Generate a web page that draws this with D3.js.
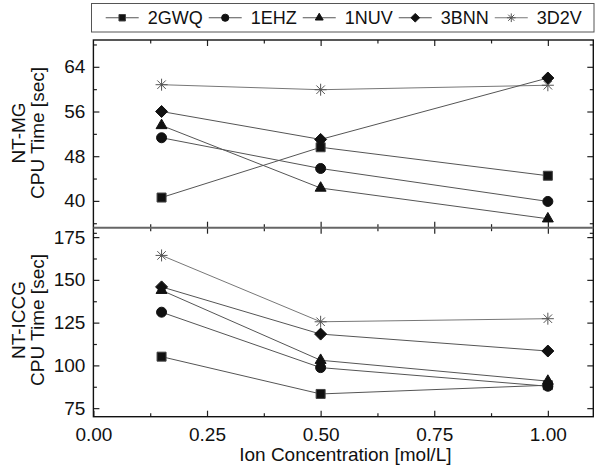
<!DOCTYPE html>
<html><head><meta charset="utf-8">
<script src="https://cdn.jsdelivr.net/npm/d3@7"></script>
<style>body{margin:0;background:#fff}svg{display:block}text{font-family:"Liberation Sans",Arial,sans-serif;fill:#111}</style>
</head><body>
<script>
const xValues = [0.15, 0.5, 1.0];
const seriesNames = ["2GWQ", "1EHZ", "1NUV", "3BNN", "3D2V"];
const mgValues = {
  "2GWQ": [40.6, 49.6, 44.5],
  "1EHZ": [51.3, 45.8, 39.9],
  "1NUV": [53.5, 42.3, 36.8],
  "3BNN": [56.0, 51.0, 62.0],
  "3D2V": [60.8, 59.9, 60.7]
};
const iccgValues = {
  "2GWQ": [105.1, 83.3, 88.4],
  "1EHZ": [131.1, 98.7, 87.8],
  "1NUV": [143.9, 103.0, 90.8],
  "3BNN": [145.9, 118.3, 108.4],
  "3D2V": [164.3, 125.5, 127.3]
};
const xTicks = [0, 0.25, 0.5, 0.75, 1.0];
const xMinor = [0.125, 0.375, 0.625, 0.875];
const mgTicks = [40, 48, 56, 64];
const mgMinor = [36, 44, 52, 60, 68];
const iccgTicks = [75, 100, 125, 150, 175];
const iccgMinor = [87.5, 112.5, 137.5, 162.5, 177.5];
const xTitle = "Ion Concentration [mol/L]";
const mgTitle = ["NT-MG", "CPU Time [sec]"];
const iccgTitle = ["NT-ICCG", "CPU Time [sec]"];

const W = 600, H = 471;
const L = 93.4, R = 593.3, T1 = 40, SEP = 227.7, B2 = 416.7;
const svg = d3.select("body").append("svg").attr("width", W).attr("height", H);

const x = d3.scaleLinear().domain([0, 1.1]).range([L, R]);
const yTop = d3.scaleLinear().domain([35.2, 68.8]).range([SEP, T1]);
const yBot = d3.scaleLinear().domain([70, 180.5]).range([B2, SEP]);

const shapes = {
  "2GWQ": {type: "square", fill: "#111", stroke: "#444"},
  "1EHZ": {type: "circle", fill: "#111", stroke: "#111"},
  "1NUV": {type: "triangle", fill: "#111", stroke: "#111"},
  "3BNN": {type: "diamond", fill: "#111", stroke: "#111"},
  "3D2V": {type: "star", fill: "none", stroke: "#555"}
};
const lineColor = {"2GWQ":"#555","1EHZ":"#555","1NUV":"#555","3BNN":"#555","3D2V":"#777"};

function markerPath(type, s) {
  if (type === "square") return d3.symbol(d3.symbolSquare, (2*s*0.9)**2)();
  if (type === "circle") return d3.symbol(d3.symbolCircle, Math.PI*s*s)();
  if (type === "triangle") return d3.symbol(d3.symbolTriangle, 1.3*s*s*1.6)();
  if (type === "diamond") {
    const p = d3.path(); const h = s*1.2;
    p.moveTo(0,-h); p.lineTo(h,0); p.lineTo(0,h); p.lineTo(-h,0); p.closePath(); return p.toString();
  }
  const p = d3.path(); const r = s*1.2;
  for (let k = 0; k < 4; k++) {
    const a = k*Math.PI/4;
    p.moveTo(-r*Math.cos(a), -r*Math.sin(a)); p.lineTo(r*Math.cos(a), r*Math.sin(a));
  }
  return p.toString();
}

function drawAxes(y, ticks, minor, showX) {
  const top = y.range()[1], bot = y.range()[0];
  const gl = svg.append("g").attr("transform", `translate(${L},0)`);
  gl.call(d3.axisLeft(y).tickValues(ticks).tickSize(-6).tickPadding(8).tickFormat(d3.format("d")));
  gl.append("g").call(d3.axisLeft(y).tickValues(minor.filter(v=>v<y.domain()[1])).tickSize(-3.5).tickFormat(""));
  const gr = svg.append("g").attr("transform", `translate(${R},0)`);
  gr.call(d3.axisRight(y).tickValues(ticks).tickSize(-6).tickFormat(""));
  gr.append("g").call(d3.axisRight(y).tickValues(minor.filter(v=>v<y.domain()[1])).tickSize(-3.5).tickFormat(""));
  const gt = svg.append("g").attr("transform", `translate(0,${top})`);
  gt.call(d3.axisTop(x).tickValues(xTicks.slice(1)).tickSize(-6).tickFormat(""));
  gt.append("g").call(d3.axisTop(x).tickValues(xMinor).tickSize(-3.5).tickFormat(""));
  const gb = svg.append("g").attr("transform", `translate(0,${bot})`);
  gb.call(d3.axisBottom(x).tickValues(showX ? xTicks : xTicks.slice(1)).tickSize(-6).tickPadding(11)
    .tickFormat(showX ? d3.format(".2f") : ""));
  gb.append("g").call(d3.axisBottom(x).tickValues(xMinor).tickSize(-3.5).tickFormat(""));
  svg.selectAll(".domain").remove();
  svg.selectAll(".tick line").attr("stroke", "#222").attr("stroke-width", 1.2);
  svg.selectAll(".tick text").style("font-size", "19px").attr("fill", "#111")
    .style("font-family", '"Liberation Sans", Arial, sans-serif');
}

function drawData(y, values) {
  const line = d3.line().x((d,i)=>x(xValues[i])).y(d=>y(d));
  const order = ["3D2V", "2GWQ", "1EHZ", "1NUV", "3BNN"];
  order.forEach(n => {
    svg.append("path").datum(values[n]).attr("d", line).attr("fill", "none")
      .attr("stroke", lineColor[n]).attr("stroke-width", 1);
  });
  order.forEach(n => {
    const sh = shapes[n];
    svg.selectAll(null).data(values[n]).enter().append("path")
      .attr("transform", (d,i)=>`translate(${x(xValues[i])},${y(d)})`)
      .attr("d", markerPath(sh.type, 5))
      .attr("fill", sh.fill).attr("stroke", sh.stroke).attr("stroke-width", 1);
  });
}

drawData(yTop, mgValues);
drawData(yBot, iccgValues);
drawAxes(yTop, mgTicks, mgMinor, false);
drawAxes(yBot, iccgTicks, iccgMinor, true);

svg.append("rect").attr("x", L).attr("y", T1).attr("width", R-L).attr("height", B2-T1)
  .attr("fill", "none").attr("stroke", "#111").attr("stroke-width", 1.4);
svg.append("line").attr("x1", L).attr("x2", R).attr("y1", SEP).attr("y2", SEP)
  .attr("stroke", "#666").attr("stroke-width", 2);

svg.append("text").attr("x", (L+R)/2 + 2).attr("y", 461).attr("text-anchor", "middle")
  .style("font-size", "19px").text(xTitle);
function yTitle(lines, cy) {
  lines.forEach((t, i) => {
    svg.append("text").attr("transform", `translate(${24.5 + i*19.5},${cy}) rotate(-90)`)
      .attr("text-anchor", "middle").style("font-size", "19px").text(t);
  });
}
yTitle(mgTitle, 133);
yTitle(iccgTitle, 320);

const lg = svg.append("g");
const boxL = 91.5, boxR = 594, boxT = 3.5, boxB = 32;
lg.append("rect").attr("x", boxL).attr("y", boxT).attr("width", boxR-boxL).attr("height", boxB-boxT)
  .attr("fill", "#fff").attr("stroke", "#555").attr("stroke-width", 1);
const items = [];
let cx = 0;
seriesNames.forEach((n, i) => {
  const g = lg.append("g");
  g.append("line").attr("x1", 0).attr("x2", 33).attr("y1", 0).attr("y2", 0)
    .attr("stroke", lineColor[n]).attr("stroke-width", 1);
  g.append("path").attr("transform", "translate(16.5,0)").attr("d", markerPath(shapes[n].type, 3.6))
    .attr("fill", shapes[n].fill).attr("stroke", shapes[n].stroke).attr("stroke-width", 1);
  const t = g.append("text").attr("x", 42).attr("y", 6.5).style("font-size", "18px").text(n);
  const w = 42 + t.node().getComputedTextLength();
  items.push({g, start: cx});
  cx += w + 6;
});
const total = cx - 6;
const off = (boxL + boxR)/2 - total/2 + 1;
items.forEach(it => it.g.attr("transform", `translate(${off + it.start},${(boxT+boxB)/2})`));
</script>
</body></html>
